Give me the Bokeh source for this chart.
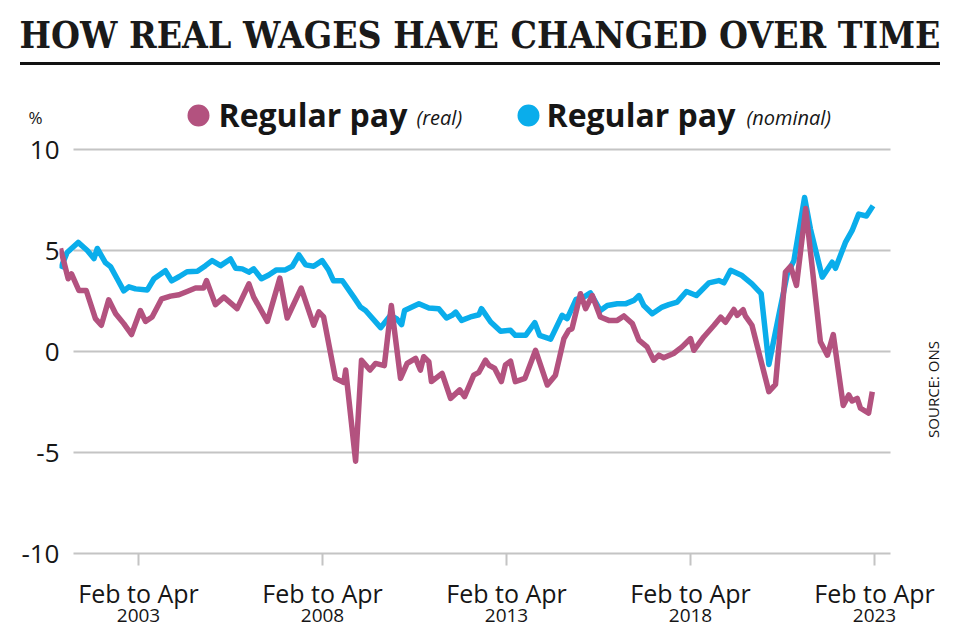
from bokeh.plotting import figure
from bokeh.models import Range1d, FixedTicker, LinearAxis, Label, BoxAnnotation, Div
from bokeh.layouts import column
from bokeh.embed import file_html
from bokeh.resources import INLINE

# ---------------- data ----------------
TITLE = "HOW REAL WAGES HAVE CHANGED OVER TIME"
SERIES_NAMES = ["Regular pay", "Regular pay"]
SERIES_NOTES = ["(real)", "(nominal)"]
UNIT = "%"
SOURCE = "SOURCE: ONS"
Y_TICKS = [-10, -5, 0, 5, 10]
X_TICKS = [2003, 2008, 2013, 2018, 2023]
X_TICK_PERIOD = "Feb to Apr"

nominal_year = [2000.88, 2001.06, 2001.36, 2001.61, 2001.79, 2001.88, 2002.10, 2002.24, 2002.42, 2002.60,
                2002.74, 2002.92, 2003.24, 2003.42, 2003.73, 2003.90, 2004.10, 2004.32, 2004.60, 2004.82,
                2005.00, 2005.23, 2005.50, 2005.64, 2005.82, 2006.00, 2006.13, 2006.34, 2006.54, 2006.75,
                2006.99, 2007.18, 2007.36, 2007.54, 2007.76, 2007.99, 2008.16, 2008.30, 2008.54, 2008.85,
                2009.03, 2009.17, 2009.58, 2009.85, 2010.01, 2010.15, 2010.23, 2010.62, 2010.89, 2011.16,
                2011.37, 2011.52, 2011.62, 2011.78, 2012.02, 2012.25, 2012.32, 2012.57, 2012.84, 2013.11,
                2013.24, 2013.52, 2013.77, 2013.90, 2014.20, 2014.51, 2014.65, 2014.89, 2015.10, 2015.28,
                2015.55, 2015.74, 2016.01, 2016.23, 2016.46, 2016.60, 2016.73, 2016.96, 2017.23, 2017.41,
                2017.64, 2017.89, 2018.16, 2018.50, 2018.77, 2018.91, 2019.09, 2019.40, 2019.67, 2019.92,
                2020.13, 2020.40, 2020.63, 2020.81, 2021.10, 2021.26, 2021.58, 2021.85, 2021.94, 2022.21,
                2022.39, 2022.57, 2022.78, 2022.96]
nominal_pct = [4.1, 4.9, 5.4, 5.0, 4.6, 5.1, 4.4, 4.2, 3.6, 3.0,
               3.2, 3.1, 3.05, 3.6, 4.0, 3.5, 3.7, 3.95, 3.97, 4.25,
               4.5, 4.25, 4.58, 4.12, 4.09, 3.93, 4.09, 3.6, 3.79, 4.04,
               4.04, 4.22, 4.78, 4.29, 4.22, 4.5, 4.05, 3.5, 3.5, 2.69,
               2.2, 2.03, 1.18, 1.79, 1.63, 1.33, 2.03, 2.36, 2.15, 2.12,
               1.66, 1.79, 1.95, 1.54, 1.71, 1.82, 2.12, 1.46, 1.0, 1.05,
               0.8, 0.8, 1.43, 0.8, 0.61, 1.79, 1.63, 2.58, 2.69, 2.9,
               2.03, 2.28, 2.36, 2.36, 2.53, 2.77, 2.28, 1.87, 2.2, 2.32,
               2.45, 2.97, 2.77, 3.4, 3.51, 3.4, 4.02, 3.76, 3.35, 2.86,
               -0.64, 1.79, 3.84, 4.5, 7.62, 6.06, 3.68, 4.42, 4.12, 5.4,
               5.98, 6.8, 6.71, 7.21]

real_year = [2000.88, 2001.09, 2001.18, 2001.38, 2001.58, 2001.83, 2001.99, 2002.19, 2002.38, 2002.60,
             2002.81, 2003.05, 2003.19, 2003.37, 2003.63, 2003.87, 2004.10, 2004.32, 2004.55, 2004.77,
             2004.85, 2005.09, 2005.32, 2005.68, 2006.00, 2006.13, 2006.50, 2006.84, 2007.04, 2007.42,
             2007.76, 2007.90, 2008.03, 2008.35, 2008.58, 2008.63, 2008.90, 2009.06, 2009.29, 2009.44,
             2009.68, 2009.87, 2010.12, 2010.30, 2010.53, 2010.66, 2010.75, 2010.89, 2010.96, 2011.25,
             2011.48, 2011.73, 2011.86, 2012.11, 2012.25, 2012.43, 2012.52, 2012.68, 2012.86, 2012.97,
             2013.11, 2013.24, 2013.50, 2013.79, 2014.11, 2014.33, 2014.56, 2014.69, 2014.78, 2015.01,
             2015.15, 2015.33, 2015.55, 2015.78, 2016.01, 2016.19, 2016.42, 2016.60, 2016.82, 2017.00,
             2017.14, 2017.27, 2017.54, 2017.77, 2018.00, 2018.09, 2018.36, 2018.64, 2018.82, 2018.95,
             2019.18, 2019.27, 2019.43, 2019.49, 2019.67, 2020.13, 2020.31, 2020.58, 2020.72, 2020.88,
             2021.13, 2021.53, 2021.72, 2021.88, 2022.15, 2022.30, 2022.39, 2022.53, 2022.62, 2022.84,
             2022.94]
real_pct = [5.1, 3.6, 3.84, 3.02, 3.02, 1.63, 1.3, 2.56, 1.87, 1.38,
            0.84, 2.03, 1.49, 1.71, 2.61, 2.74, 2.81, 2.97, 3.14, 3.14,
            3.51, 2.32, 2.69, 2.12, 3.35, 2.69, 1.49, 3.63, 1.66, 3.14,
            1.3, 1.96, 1.71, -1.33, -1.53, -0.92, -5.43, -0.43, -0.92, -0.59,
            -0.7, 2.28, -1.33, -0.59, -0.34, -0.92, -0.26, -0.51, -1.49, -1.08,
            -2.32, -1.9, -2.23, -1.17, -1.03, -0.43, -0.67, -0.84, -1.49, -0.67,
            -0.48, -1.49, -1.33, 0.06, -1.66, -1.17, 0.64, 1.05, 1.13, 2.86,
            2.12, 2.77, 1.71, 1.54, 1.54, 1.76, 1.38, 0.56, 0.23, -0.43,
            -0.18, -0.31, -0.1, 0.23, 0.64, 0.06, 0.72, 1.3, 1.7, 1.45,
            2.08, 1.79, 2.07, 1.76, 1.3, -1.99, -1.63, 3.93, 4.22, 3.27,
            7.08, 0.48, -0.18, 0.84, -2.67, -2.15, -2.45, -2.32, -2.81, -3.05,
            -1.99]

# ---------------- layout (page pixels) ----------------
W, H = 960, 640
HEAD = 70                          # height of the title block above the figure
FIG_H = H - HEAD
FL, FR, FT, FB = 59, 960, HEAD, 556  # frame edges in page pixels
KX = 36.8          # px per year
KY = 20.2          # px per percentage point
x_start = 2003 - (138 - FL) / KX
x_end = x_start + (FR - FL) / KX
y_end = 10 + (149 - FT) / KY
y_start = y_end - (FB - FT) / KY


def dx(px):
    return x_start + (px - FL) / KX


def dy(py):
    return y_end - (py - FT) / KY


REAL_C = "#b3527f"
NOM_C = "#0aadeb"
GRID_C = "#c4c4c4"
INK = "#161616"
SANS = "Open Sans"
ASC = 0.37   # baseline correction for labels, in em

head = Div(
    width=W, height=HEAD, margin=0,
    text=(
        '<div style="position:relative;width:960px;height:70px;overflow:visible;">'
        '<div style="position:absolute;left:0;top:17px;width:960px;text-align:center;white-space:nowrap;'
        "font-family:'DejaVu Serif';font-stretch:condensed;font-weight:bold;font-size:37px;"
        'line-height:37px;color:#1a1a1a;">' + TITLE + '</div>'
        '<div style="position:absolute;left:20px;top:62px;width:920px;height:3px;background:#111;"></div>'
        '</div>'
    ),
)

p = figure(width=W, height=FIG_H, x_range=Range1d(x_start, x_end), y_range=Range1d(y_start, y_end),
           output_backend="svg", toolbar_location=None, title=None, margin=0,
           min_border_left=FL, min_border_right=W - FR, min_border_top=0, min_border_bottom=H - FB)
p.outline_line_color = None
p.background_fill_color = "white"
p.border_fill_color = "white"
p.xgrid.visible = False
p.ygrid.visible = False

# y axis
ya = p.yaxis[0]
ya.ticker = FixedTicker(ticks=Y_TICKS)
ya.major_label_overrides = {t: str(t) for t in Y_TICKS}
ya.axis_line_color = None
ya.major_tick_line_color = None
ya.major_tick_out = 0
ya.major_tick_in = 0
ya.minor_tick_line_color = None
ya.major_label_standoff = 0
ya.major_label_text_font = SANS
ya.major_label_text_font_size = "26px"
ya.major_label_text_color = INK

# unit marker as a second left axis with a single tick
unit_level = dy(116.5)
ya2 = LinearAxis(ticker=FixedTicker(ticks=[unit_level]), major_label_overrides={unit_level: UNIT})
ya2.axis_line_color = None
ya2.major_tick_line_color = None
ya2.major_tick_out = 0
ya2.major_tick_in = 0
ya2.minor_tick_line_color = None
ya2.major_label_standoff = -24
ya2.major_label_text_font = SANS
ya2.major_label_text_font_size = "17px"
ya2.major_label_text_color = INK
p.add_layout(ya2, "left")

# x axis: period line
xa = p.xaxis[0]
xa.ticker = FixedTicker(ticks=X_TICKS)
xa.major_label_overrides = {t: X_TICK_PERIOD for t in X_TICKS}
xa.axis_line_color = None
xa.major_tick_line_color = GRID_C
xa.major_tick_line_width = 2
xa.major_tick_in = 3
xa.major_tick_out = 9
xa.minor_tick_line_color = None
xa.major_label_standoff = 10
xa.major_label_text_font = SANS
xa.major_label_text_font_size = "25px"
xa.major_label_text_color = INK

# x axis: year line
xa2 = LinearAxis(ticker=FixedTicker(ticks=X_TICKS),
                 major_label_overrides={t: str(t) for t in X_TICKS})
xa2.axis_line_color = None
xa2.major_tick_line_color = None
xa2.major_tick_out = 0
xa2.major_tick_in = 0
xa2.minor_tick_line_color = None
xa2.major_label_standoff = -4
xa2.major_label_text_font = SANS
xa2.major_label_text_font_size = "19px"
xa2.major_label_text_color = INK
p.add_layout(xa2, "below")

# gridlines
p.segment(x0=[dx(73)] * len(Y_TICKS), x1=[dx(890)] * len(Y_TICKS), y0=Y_TICKS, y1=Y_TICKS,
          line_color=GRID_C, line_width=2)

# series
p.line(nominal_year, nominal_pct, line_color=NOM_C, line_width=5.5, line_join="round")
p.line(real_year, real_pct, line_color=REAL_C, line_width=5.5, line_join="round")

# legend
for cx, col, name, note, tx, nx in [(198, REAL_C, SERIES_NAMES[0], SERIES_NOTES[0], 218, 416),
                                    (528, NOM_C, SERIES_NAMES[1], SERIES_NOTES[1], 546, 746)]:
    p.add_layout(BoxAnnotation(left=dx(cx - 11), right=dx(cx + 11), top=dy(104), bottom=dy(126),
                               fill_color=col, fill_alpha=1, line_color=None, border_radius=11))
    p.add_layout(Label(x=dx(tx), y=dy(126 - ASC * 32), text=name, text_align="left",
                       text_baseline="alphabetic", text_font=SANS, text_font_style="bold",
                       text_font_size="32px", text_color=INK))
    p.add_layout(Label(x=dx(nx), y=dy(125 - 0.4 * 20), text=note, text_align="left",
                       text_baseline="alphabetic", text_font=SANS, text_font_style="italic",
                       text_font_size="20px", text_color=INK))

# source
p.add_layout(Label(x=dx(932), y=dy(389), text=SOURCE, angle=1.5707963, text_align="center",
                   text_baseline="middle", text_font=SANS, text_font_size="15px", text_color=INK))

layout = column(head, p, spacing=0, margin=0)
open("out.html", "w").write(file_html(layout, INLINE))
